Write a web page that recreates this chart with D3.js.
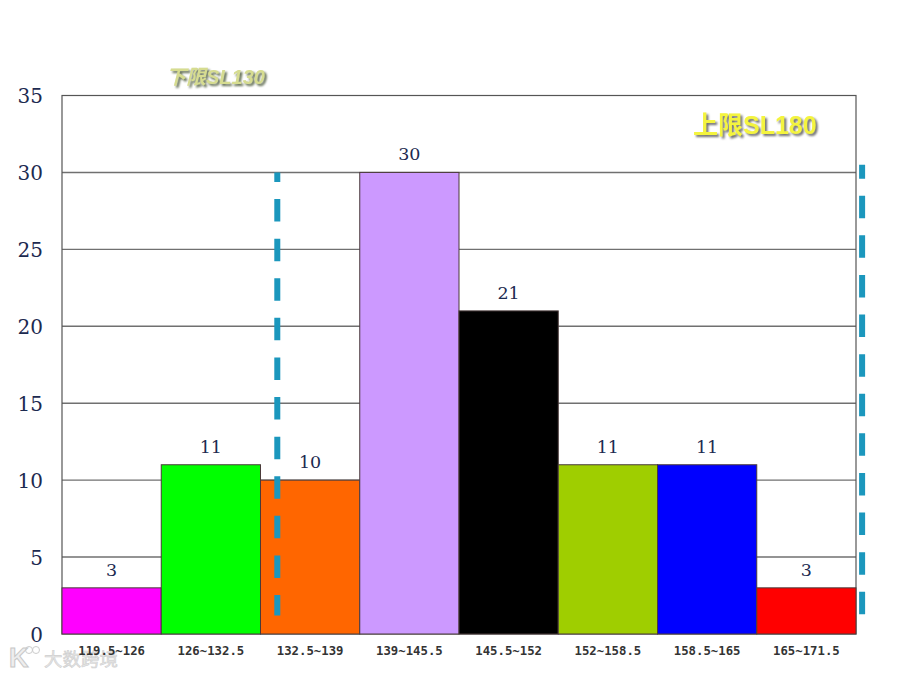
<!DOCTYPE html>
<html>
<head>
<meta charset="utf-8">
<script src="https://cdn.jsdelivr.net/npm/d3@7"></script>
<style>
body { margin: 0; background: #fff; }
svg { display: block; }
</style>
</head>
<body>
<svg id="chart" width="900" height="675"></svg>
<script>
// histogram data
var categories = ["119.5~126", "126~132.5", "132.5~139", "139~145.5", "145.5~152", "152~158.5", "158.5~165", "165~171.5"];
var counts = [3, 11, 10, 30, 21, 11, 11, 3];
var barColors = ["#ff00ff", "#00ff00", "#ff6600", "#cc99ff", "#000000", "#9fce00", "#0000ff", "#ff0000"];
var yTicks = [0, 5, 10, 15, 20, 25, 30, 35];
// dashed limit lines: where they sit on the x range, and how far up they reach
var limitValues = [133.6, 171.9];
var limitTops = [30, 30.5];
var limitBottom = 1.2;

var svg = d3.select("#chart");
var serif = "'DejaVu Serif', 'Liberation Serif', serif";

var x = d3.scaleBand().domain(categories).range([62, 856]);
var xValue = d3.scaleLinear().domain([119.5, 171.5]).range([62, 856]);
var y = d3.scaleLinear().domain([0, 35]).range([634, 95.5]);

// watermark goes first, the axis labels sit on top of it
svg.append("text")
  .attr("x", 9)
  .attr("y", 667)
  .style("font-family", "'Liberation Sans', sans-serif")
  .style("font-weight", "bold")
  .style("font-size", "27px")
  .style("fill", "#eeeeee")
  .style("stroke", "#c8c8c8")
  .text("K");
// the two small rings of the logo
svg.selectAll("circle.logo")
  .data([29, 36])
  .enter()
  .append("circle")
  .attr("class", "logo")
  .attr("cx", function(d) { return d; })
  .attr("cy", 650)
  .attr("r", 3.5)
  .style("fill", "none")
  .style("stroke", "#cccccc");
svg.append("text")
  .attr("x", 44)
  .attr("y", 666)
  .style("font-family", "'Noto Sans CJK SC', sans-serif")
  .style("font-size", "18.5px")
  .style("fill", "#e6e6e6")
  .style("stroke", "#cfcfcf")
  .style("stroke-width", 0.6)
  .text("大数跨境");

// gridlines
svg.append("g").selectAll("line")
  .data(yTicks.slice(1, -1))
  .enter()
  .append("line")
  .attr("x1", 62)
  .attr("x2", 856)
  .attr("y1", function(d) { return y(d); })
  .attr("y2", function(d) { return y(d); })
  .style("stroke", "#707070")
  .style("stroke-width", 1.4);

// plot frame
svg.append("rect")
  .attr("x", 62)
  .attr("y", y(35))
  .attr("width", 794)
  .attr("height", y(0) - y(35))
  .style("fill", "none")
  .style("stroke", "#555")
  .style("stroke-width", 1.2);

// bars
svg.selectAll("rect.bar")
  .data(counts)
  .enter()
  .append("rect")
  .attr("class", "bar")
  .attr("x", function(d, i) { return x(categories[i]); })
  .attr("y", function(d) { return y(d); })
  .attr("width", x.bandwidth())
  .attr("height", function(d) { return y(0) - y(d); })
  .style("fill", function(d, i) { return barColors[i]; })
  .style("stroke", "#4a3a3a")
  .style("stroke-width", 1);

// value labels
svg.selectAll("text.val")
  .data(counts)
  .enter()
  .append("text")
  .attr("class", "val")
  .attr("x", function(d, i) { return x(categories[i]) + x.bandwidth() / 2; })
  .attr("y", function(d) { return y(d) - 12; })
  .attr("text-anchor", "middle")
  .style("font-family", serif)
  .style("font-size", "17.5px")
  .style("fill", "#1c2a50")
  .text(function(d) { return d; });

// y axis labels
var yAxis = d3.axisLeft(y).tickValues(yTicks).tickSize(0).tickPadding(19);
var yG = svg.append("g").attr("transform", "translate(62,1)").call(yAxis);
yG.select(".domain").remove();
yG.selectAll("text")
  .style("font-family", serif)
  .style("font-size", "20px")
  .style("fill", "#1c2a50");

// x axis labels
var xAxis = d3.axisBottom(x).tickSize(0).tickPadding(12);
var xG = svg.append("g").attr("transform", "translate(0,634)").call(xAxis);
xG.select(".domain").remove();
xG.selectAll("text")
  .style("font-family", "'DejaVu Sans Mono', 'Liberation Mono', monospace")
  .style("font-weight", "bold")
  .style("font-size", "12.3px")
  .style("fill", "#333");

// limit lines, dashed
var limitOffsets = [13, 8.6];
svg.selectAll("line.limit")
  .data(limitValues)
  .enter()
  .append("line")
  .attr("class", "limit")
  .attr("x1", function(d) { return xValue(d); })
  .attr("x2", function(d) { return xValue(d); })
  .attr("y1", function(d, i) { return y(limitTops[i]); })
  .attr("y2", y(limitBottom))
  .style("stroke", "#1b97bd")
  .style("stroke-width", 6)
  .style("stroke-dasharray", "22.5 17.1")
  .style("stroke-dashoffset", function(d, i) { return limitOffsets[i]; });

// limit captions with a shadow
function caption(txt, px, py, size, fill, shade, italic) {
  svg.append("text")
    .attr("x", px)
    .attr("y", py)
    .style("font-family", "'Liberation Sans', 'Noto Sans CJK SC', sans-serif")
    .style("font-weight", "bold")
    .style("font-style", italic ? "italic" : "normal")
    .style("font-size", size + "px")
    .style("fill", fill)
    .style("filter", "drop-shadow(2px 2px 1px " + shade + ")")
    .text(txt);
}
caption("下限SL130", 166, 84, 20, "#d6dc90", "#5f6b50", true);
caption("上限SL180", 693, 134, 25, "#f4f43e", "#6e6e6e", false);
</script>
</body>
</html>
